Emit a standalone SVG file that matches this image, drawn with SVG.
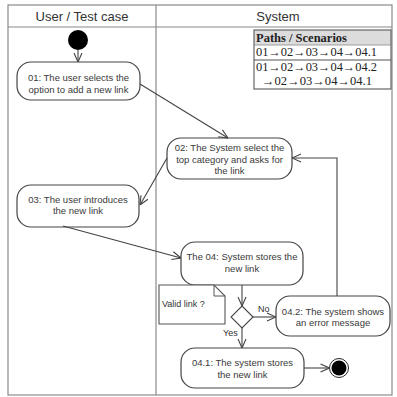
<svg xmlns="http://www.w3.org/2000/svg" width="397" height="397" viewBox="0 0 397 397">
<defs>
<style>
.frame{fill:none;stroke:#8a8a8a;stroke-width:1.2}
.node rect{fill:#fff;stroke:#444;stroke-width:1.2}
.t{font-family:"Liberation Sans",Arial,sans-serif;font-size:9.5px;fill:#3a3a3a;text-anchor:middle}
.h{font-family:"Liberation Sans",Arial,sans-serif;font-size:13px;fill:#333;text-anchor:middle}
.c{fill:none;stroke:#444;stroke-width:1.1}
.s{font-family:"Liberation Serif","Times New Roman","DejaVu Serif",serif;font-size:12px;fill:#222}
</style>
<marker id="arr" viewBox="0 0 10 10" refX="10" refY="5" markerWidth="10" markerHeight="10" markerUnits="userSpaceOnUse" orient="auto">
<path d="M1,1 L10,5 L1,9" fill="none" stroke="#444" stroke-width="1.1"/>
</marker>
</defs>
<rect width="397" height="397" fill="#fff"/>
<g id="swimlanes">
<rect class="frame" x="8" y="5" width="384" height="390"/>
<line class="frame" x1="8" y1="27" x2="392" y2="27"/>
<line class="frame" x1="156" y1="5" x2="156" y2="395"/>
<text class="h" x="82" y="21">User / Test case</text>
<text class="h" x="278" y="21">System</text>
</g>
<g id="table">
<rect x="254" y="30" width="137" height="15" fill="#dcdcdc"/>
<rect x="254" y="30" width="137" height="59" fill="none" stroke="#666" stroke-width="1.2"/>
<line x1="254" y1="45" x2="391" y2="45" stroke="#888" stroke-width="0.8"/>
<line x1="254" y1="60" x2="391" y2="60" stroke="#555" stroke-width="1.2"/>
<text class="s" x="256" y="41.5" font-weight="bold" textLength="91" lengthAdjust="spacingAndGlyphs">Paths / Scenarios</text>
<text class="s" x="256" y="56" textLength="121" lengthAdjust="spacingAndGlyphs">01→02→03→04→04.1</text>
<text class="s" x="256" y="71" textLength="121" lengthAdjust="spacingAndGlyphs">01→02→03→04→04.2</text>
<text class="s" x="262" y="85" textLength="110" lengthAdjust="spacingAndGlyphs">→02→03→04→04.1</text>
</g>
<g id="start"><circle cx="78" cy="40" r="10" fill="#000"/></g>
<g id="n01" class="node">
<rect x="17" y="62" width="123" height="38" rx="14"/>
<text class="t" x="78.5" y="80.5">01: The user selects the</text>
<text class="t" x="78.5" y="92.5">option to add a new link</text>
</g>
<g id="n02" class="node">
<rect x="167" y="138" width="125" height="41" rx="14"/>
<text class="t" x="229.5" y="150.5">02: The System select the</text>
<text class="t" x="229.5" y="162.5">top category and asks for</text>
<text class="t" x="229.5" y="174">the link</text>
</g>
<g id="n03" class="node">
<rect x="17" y="185" width="122" height="42" rx="14"/>
<text class="t" x="78" y="202.5">03: The user introduces</text>
<text class="t" x="78" y="214">the new link</text>
</g>
<g id="n04" class="node">
<rect x="181" y="242" width="122" height="43" rx="14"/>
<text class="t" x="242" y="259.5">The 04: System stores the</text>
<text class="t" x="242" y="271.5">new link</text>
</g>
<g id="note">
<path d="M159,285 L214,285 L225,296 L225,324 L159,324 Z" fill="#fff" stroke="#555" stroke-width="1.1"/>
<path d="M214,285 L214,296 L225,296" fill="none" stroke="#555" stroke-width="1"/>
<text x="162" y="307" font-family="'Liberation Sans',Arial,sans-serif" font-size="9" fill="#333">Valid link ?</text>
</g>
<g id="decision">
<polygon points="242,306 253,317 242,328 231,317" fill="#fff" stroke="#444" stroke-width="1.1"/>
</g>
<g id="n042" class="node">
<rect x="276" y="296" width="114" height="40" rx="14"/>
<text class="t" x="333" y="314.5">04.2: The system shows</text>
<text class="t" x="333" y="326">an error message</text>
</g>
<g id="n041" class="node">
<rect x="181" y="348" width="123" height="40" rx="14"/>
<text class="t" x="242.5" y="365.5">04.1: The system stores</text>
<text class="t" x="242.5" y="377.5">the new link</text>
</g>
<g id="end">
<circle cx="339" cy="368" r="9.5" fill="#fff" stroke="#222" stroke-width="1"/>
<circle cx="339" cy="368" r="7.5" fill="#000"/>
</g>
<g id="connectors">
<line class="c" x1="78" y1="50" x2="78" y2="62" marker-end="url(#arr)"/>
<line class="c" x1="140" y1="84" x2="228" y2="138" marker-end="url(#arr)"/>
<line class="c" x1="167" y1="158" x2="140" y2="205" marker-end="url(#arr)"/>
<line class="c" x1="63" y1="226" x2="181" y2="258" marker-end="url(#arr)"/>
<line class="c" x1="242" y1="285" x2="242" y2="306" marker-end="url(#arr)"/>
<line class="c" x1="253" y1="317" x2="276" y2="317" marker-end="url(#arr)"/>
<line class="c" x1="242" y1="328" x2="242" y2="348" marker-end="url(#arr)"/>
<polyline class="c" points="337,296 337,158 292,158" marker-end="url(#arr)"/>
<line class="c" x1="304" y1="368" x2="329.5" y2="368" marker-end="url(#arr)"/>
<text x="258" y="311.5" font-family="'Liberation Sans',Arial,sans-serif" font-size="9" fill="#333">No</text>
<text x="223" y="336" font-family="'Liberation Sans',Arial,sans-serif" font-size="9" fill="#333">Yes</text>
</g>
</svg>
